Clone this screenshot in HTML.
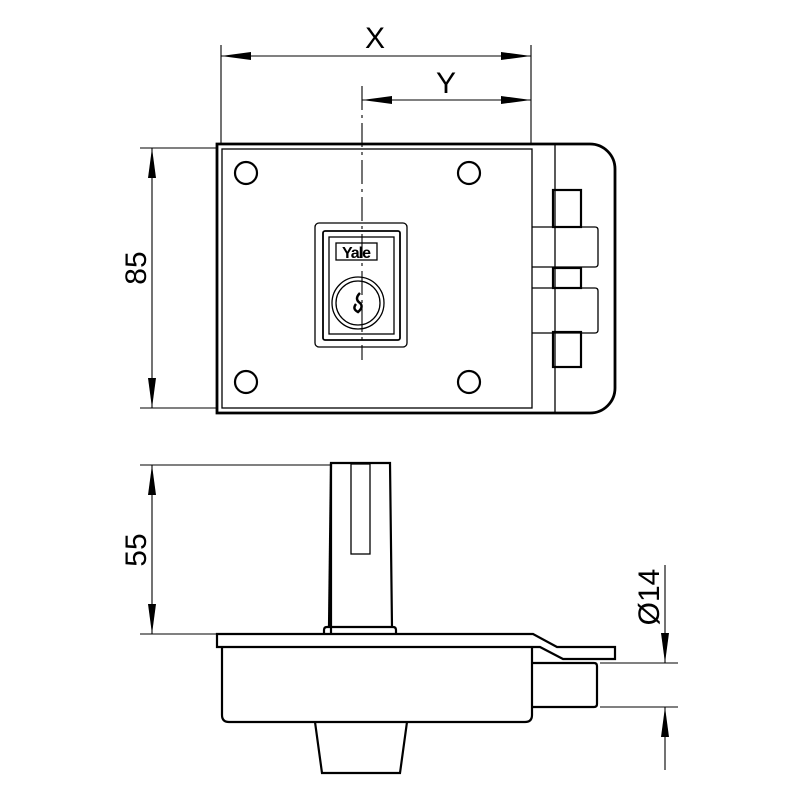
<!DOCTYPE html>
<html><head><meta charset="utf-8"><style>html,body{margin:0;padding:0;background:#fff}svg{display:block}</style></head>
<body>
<svg width="800" height="800" viewBox="0 0 800 800" xmlns="http://www.w3.org/2000/svg" font-family="Liberation Sans, sans-serif">
<defs>
<marker id="a" viewBox="0 0 30 10" refX="30" refY="5" markerWidth="30" markerHeight="10" markerUnits="userSpaceOnUse" orient="auto-start-reverse"><path d="M0,1 L30,5 L0,9 Z" fill="#000"/></marker>
</defs>
<g stroke="#000" fill="none">
<g stroke-width="1.1">
<line x1="221" y1="45" x2="221" y2="143"/>
<line x1="531" y1="45" x2="531" y2="143"/>
<line x1="221" y1="56" x2="531" y2="56" marker-start="url(#a)" marker-end="url(#a)"/>
<line x1="362" y1="100" x2="531" y2="100" marker-start="url(#a)" marker-end="url(#a)"/>
<line x1="362" y1="86" x2="362" y2="360" stroke-dasharray="24,5,3,5"/>
<line x1="140" y1="148" x2="217" y2="148"/>
<line x1="140" y1="408" x2="217" y2="408"/>
<line x1="152" y1="148" x2="152" y2="408" marker-start="url(#a)" marker-end="url(#a)"/>
<line x1="140" y1="465" x2="330" y2="465"/>
<line x1="140" y1="634" x2="217" y2="634"/>
<line x1="152" y1="465" x2="152" y2="634" marker-start="url(#a)" marker-end="url(#a)"/>
<line x1="600" y1="663" x2="678" y2="663"/>
<line x1="600" y1="707" x2="678" y2="707"/>
<line x1="665" y1="565" x2="665" y2="663" marker-end="url(#a)"/>
<line x1="665" y1="770" x2="665" y2="707" marker-end="url(#a)"/>
</g>
<path d="M217,144 H590 A25,25 0 0 1 615,169 V388 A25,25 0 0 1 590,413 H217 Z" stroke-width="2.8"/>
<rect x="222" y="149" width="310" height="259" stroke-width="1.3"/>
<line x1="555" y1="144" x2="555" y2="413" stroke-width="1.3"/>
<g stroke-width="2.2">
<circle cx="246" cy="173" r="11"/><circle cx="469" cy="173" r="11"/>
<circle cx="246" cy="382" r="11"/><circle cx="469" cy="382" r="11"/>
</g>
<rect x="315" y="223" width="92" height="124" rx="4" stroke-width="1.3"/>
<rect x="323" y="231" width="77" height="109" rx="2" stroke-width="1.8"/>
<rect x="329" y="237" width="65" height="97" stroke-width="1.3"/>
<rect x="336" y="243" width="41" height="17" stroke-width="1.3"/>
<circle cx="358" cy="303" r="26" stroke-width="1.3"/>
<circle cx="358" cy="303" r="22" stroke-width="1.3"/>
<path d="M360,293 q-6,6 0,10 q4,4 -2,9 q-6,-3 -2,-8" stroke-width="2.5"/>
<g stroke-width="1.3">
<path d="M532,227 H595 q3,0 3,3 V264 q0,3 -3,3 H532"/>
<path d="M532,288 H595 q3,0 3,3 V330 q0,3 -3,3 H532"/>
</g>
<g stroke-width="2.2">
<rect x="553" y="190" width="28" height="37"/>
<rect x="553" y="268" width="28" height="20"/>
<rect x="553" y="332" width="28" height="35"/>
</g>
<g stroke-width="2.2">
<path d="M331,634 L331,463 H390 L392,627"/>
<line x1="331" y1="463" x2="329" y2="627"/>
<rect x="351" y="464" width="19" height="90" stroke-width="1.3"/>
<path d="M324,634 V630 q0,-3 3,-3 H393 q3,0 3,3 V634"/>
<path d="M217,634 H533 L557,647 H615 V659 H563 L540,647 H217 Z"/>
<path d="M222,647 V715 q0,7 7,7 H525 q7,0 7,-7 V647"/>
<path d="M533,663 H594 q3,0 3,3 V704 q0,3 -3,3 H533"/>
<path d="M315,722 L322,773 H400 L407,722"/>
</g>
</g>
<g fill="#000" font-size="30" text-anchor="middle">
<text x="375" y="48">X</text>
<text x="446" y="93">Y</text>
<text transform="translate(146,268) rotate(-90)">85</text>
<text transform="translate(146,550) rotate(-90)">55</text>
<text transform="translate(659,597) rotate(-90)">Ø14</text>
<text x="356" y="258" font-size="16" font-weight="bold" letter-spacing="-1">Yale</text>
</g>
</svg>
</body></html>
